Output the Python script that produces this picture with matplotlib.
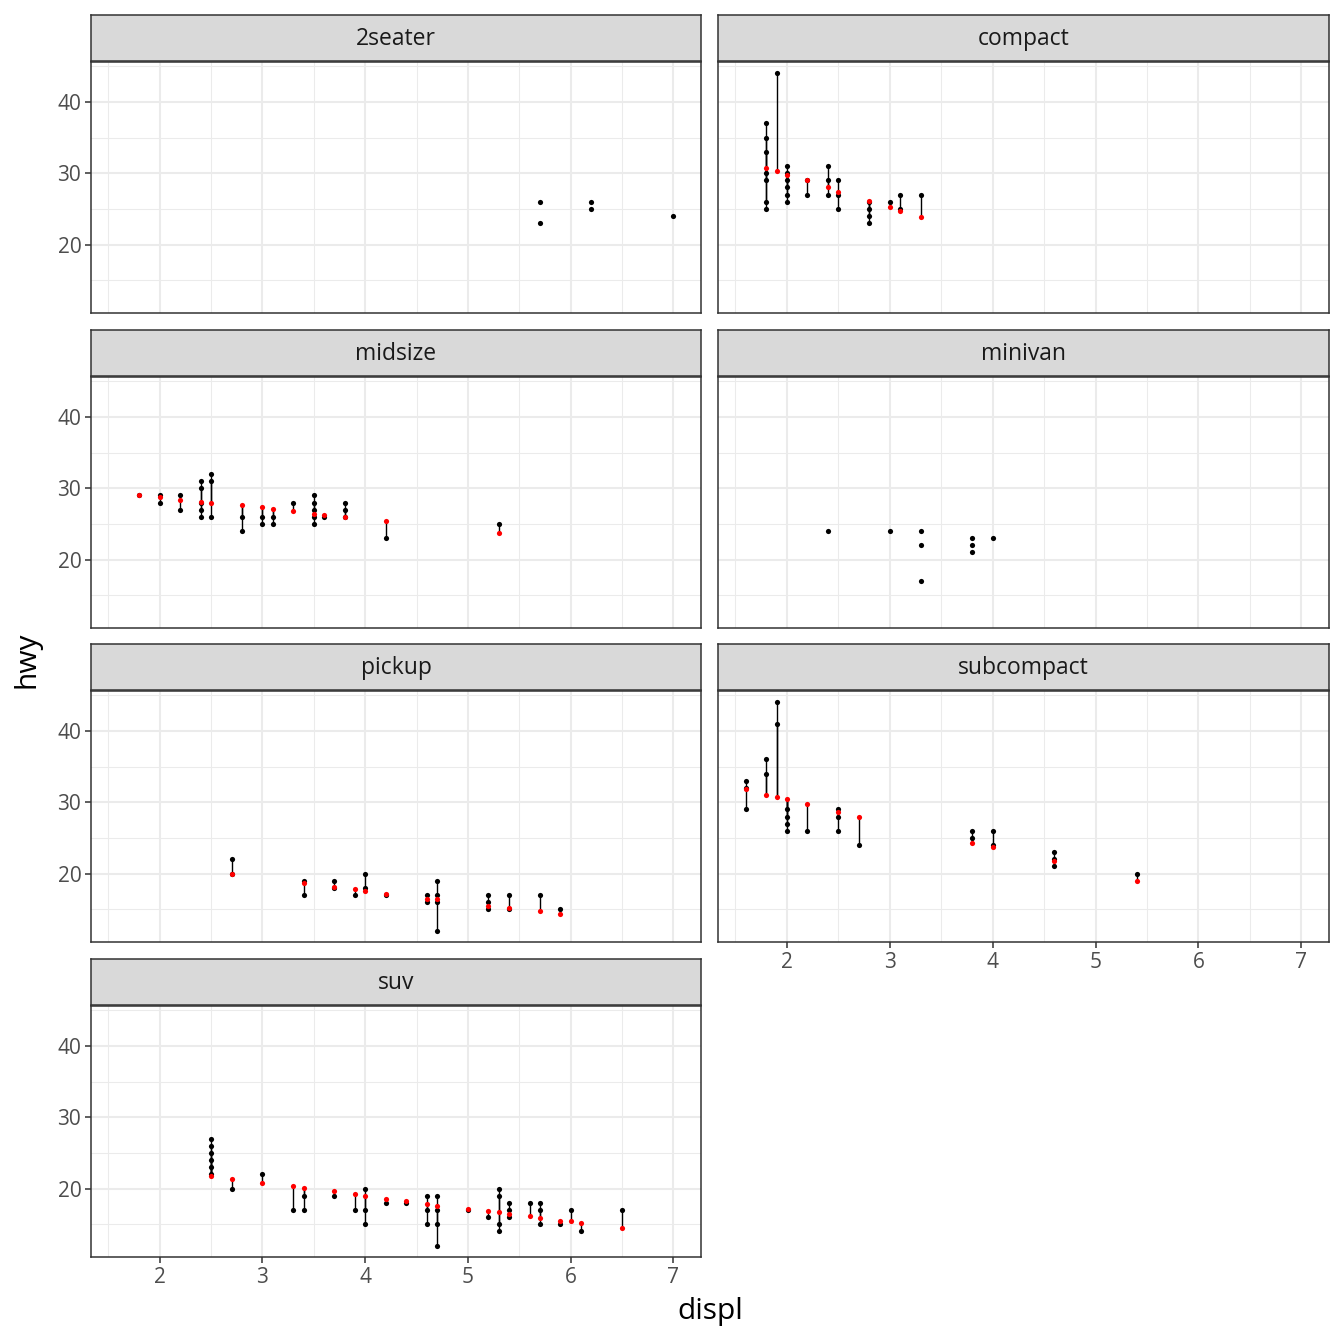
import matplotlib
matplotlib.use("Agg")
import matplotlib.pyplot as plt
from matplotlib.ticker import MultipleLocator

plt.rcParams['font.family'] = ['Open Sans', 'DejaVu Sans']

# observed points (displ, hwy) per class
twoseater_displ = [5.7, 5.7, 6.2, 6.2, 7.0]
twoseater_hwy = [26, 23, 26, 25, 24]

compact_displ = [1.8, 1.8, 1.8, 1.8, 1.8, 1.8, 1.8, 1.9, 2.0, 2.0, 2.0, 2.0, 2.0, 2.0,
                 2.2, 2.2, 2.4, 2.4, 2.4, 2.5, 2.5, 2.5, 2.8, 2.8, 2.8, 2.8, 3.0,
                 3.1, 3.1, 3.3]
compact_hwy = [37, 35, 33, 30, 29, 26, 25, 44, 31, 30, 29, 28, 27, 26,
               29, 27, 31, 29, 27, 29, 27, 25, 26, 25, 24, 23, 26,
               27, 25, 27]
compact_fit_displ = [1.8, 1.9, 2.0, 2.2, 2.4, 2.5, 2.8, 3.0, 3.1, 3.3]
compact_fit_hwy = [30.7, 30.3, 29.8, 29.0, 28.0, 27.4, 26.1, 25.2, 24.7, 23.8]

midsize_displ = [1.8, 2.0, 2.0, 2.2, 2.2, 2.4, 2.4, 2.4, 2.4, 2.4, 2.5, 2.5, 2.5,
                 2.8, 2.8, 3.0, 3.0, 3.1, 3.1, 3.3, 3.5, 3.5, 3.5, 3.5, 3.5,
                 3.6, 3.8, 3.8, 3.8, 4.2, 5.3]
midsize_hwy = [29, 29, 28, 29, 27, 31, 30, 28, 27, 26, 32, 31, 26,
               26, 24, 26, 25, 26, 25, 28, 29, 28, 27, 26, 25,
               26, 28, 27, 26, 23, 25]
midsize_fit_displ = [1.8, 2.0, 2.2, 2.4, 2.5, 2.8, 3.0, 3.1, 3.3, 3.5, 3.6, 3.8, 4.2, 5.3]
midsize_fit_hwy = [29.1, 28.8, 28.4, 28.1, 28.0, 27.6, 27.3, 27.1, 26.8, 26.4, 26.2, 26.0, 25.4, 23.7]

minivan_displ = [2.4, 3.0, 3.3, 3.3, 3.3, 3.8, 3.8, 3.8, 4.0]
minivan_hwy = [24, 24, 24, 22, 17, 23, 22, 21, 23]

pickup_displ = [2.7, 2.7, 3.4, 3.4, 3.7, 3.7, 3.9, 4.0, 4.0, 4.2, 4.6, 4.6,
                4.7, 4.7, 4.7, 4.7, 5.2, 5.2, 5.2, 5.4, 5.4, 5.7, 5.9]
pickup_hwy = [22, 20, 19, 17, 19, 18, 17, 20, 18, 17, 17, 16,
              19, 17, 16, 12, 17, 16, 15, 17, 15, 17, 15]
pickup_fit_displ = [2.7, 3.4, 3.7, 3.9, 4.0, 4.2, 4.6, 4.7, 5.2, 5.4, 5.7, 5.9]
pickup_fit_hwy = [19.9, 18.7, 18.1, 17.8, 17.6, 17.2, 16.5, 16.4, 15.5, 15.2, 14.7, 14.3]

subcompact_displ = [1.6, 1.6, 1.6, 1.8, 1.8, 1.9, 1.9, 2.0, 2.0, 2.0, 2.0, 2.2,
                    2.5, 2.5, 2.5, 2.7, 3.8, 3.8, 4.0, 4.0, 4.6, 4.6, 4.6, 5.4]
subcompact_hwy = [33, 32, 29, 36, 34, 44, 41, 29, 28, 27, 26, 26,
                  29, 28, 26, 24, 26, 25, 26, 24, 23, 22, 21, 20]
subcompact_fit_displ = [1.6, 1.8, 1.9, 2.0, 2.2, 2.5, 2.7, 3.8, 4.0, 4.6, 5.4]
subcompact_fit_hwy = [31.8, 31.0, 30.7, 30.4, 29.7, 28.7, 28.0, 24.3, 23.7, 21.7, 18.9]

suv_displ = [2.5, 2.5, 2.5, 2.5, 2.5, 2.5, 2.7, 3.0, 3.3, 3.4, 3.4, 3.7, 3.9,
             4.0, 4.0, 4.0, 4.2, 4.4, 4.6, 4.6, 4.6, 4.7, 4.7, 4.7, 4.7,
             5.0, 5.2, 5.3, 5.3, 5.3, 5.3, 5.4, 5.4, 5.4, 5.6, 5.7, 5.7, 5.7,
             5.9, 6.0, 6.1, 6.5]
suv_hwy = [27, 26, 25, 24, 23, 22, 20, 22, 17, 19, 17, 19, 17,
           20, 17, 15, 18, 18, 19, 17, 15, 19, 17, 15, 12,
           17, 16, 20, 19, 15, 14, 18, 17, 16, 18, 18, 17, 15,
           15, 17, 14, 17]
suv_fit_displ = [2.5, 2.7, 3.0, 3.3, 3.4, 3.7, 3.9, 4.0, 4.2, 4.4, 4.6, 4.7, 5.0,
                 5.2, 5.3, 5.4, 5.6, 5.7, 5.9, 6.0, 6.1, 6.5]
suv_fit_hwy = [21.7, 21.3, 20.8, 20.3, 20.1, 19.6, 19.2, 18.9, 18.5, 18.2, 17.8, 17.6, 17.1,
               16.8, 16.7, 16.5, 16.1, 15.9, 15.5, 15.4, 15.2, 14.5]

panels = [
    ("2seater", twoseater_displ, twoseater_hwy, [], []),
    ("compact", compact_displ, compact_hwy, compact_fit_displ, compact_fit_hwy),
    ("midsize", midsize_displ, midsize_hwy, midsize_fit_displ, midsize_fit_hwy),
    ("minivan", minivan_displ, minivan_hwy, [], []),
    ("pickup", pickup_displ, pickup_hwy, pickup_fit_displ, pickup_fit_hwy),
    ("subcompact", subcompact_displ, subcompact_hwy, subcompact_fit_displ, subcompact_fit_hwy),
    ("suv", suv_displ, suv_hwy, suv_fit_displ, suv_fit_hwy),
]

W = H = 1344
fig = plt.figure(figsize=(13.44, 13.44), dpi=100)

col_x = [(91, 701), (718, 1329)]
row_y = [(62, 313), (377, 628), (691, 942), (1006, 1257)]
strip_h = 46
dark = "#333333"

for i, (name, xs, ys, fx, fy) in enumerate(panels):
    r, c = divmod(i, 2)
    x0, x1 = col_x[c]
    y0, y1 = row_y[r]
    ax = fig.add_axes([x0 / W, 1 - y1 / H, (x1 - x0) / W, (y1 - y0) / H])
    sax = fig.add_axes([x0 / W, 1 - (y0 - 1) / H, (x1 - x0) / W, strip_h / H])
    sax.set_facecolor("#D9D9D9")
    sax.set_xticks([])
    sax.set_yticks([])
    for sp in sax.spines.values():
        sp.set_color(dark)
        sp.set_linewidth(1.1)
    sax.text(0.5, 0.47, name, ha="center", va="center", fontsize=16.5,
             color="#1A1A1A", transform=sax.transAxes)

    ax.set_xlim(1.33, 7.27)
    ax.set_ylim(10.4, 45.6)
    ax.xaxis.set_major_locator(MultipleLocator(1))
    ax.xaxis.set_minor_locator(MultipleLocator(0.5))
    ax.yaxis.set_major_locator(MultipleLocator(10))
    ax.yaxis.set_minor_locator(MultipleLocator(5))
    ax.grid(which="major", color="#EBEBEB", linewidth=1.5)
    ax.grid(which="minor", color="#EBEBEB", linewidth=0.75)
    ax.set_axisbelow(True)
    for sp in ax.spines.values():
        sp.set_color(dark)
        sp.set_linewidth(1.1)
    ax.tick_params(which="major", length=4, width=1.1, color=dark, pad=3,
                   labelsize=15, labelcolor="#4D4D4D")
    ax.tick_params(which="minor", length=0)

    # segments from observed value to fitted value
    fit_map = dict(zip(fx, fy))
    for x, y in zip(xs, ys):
        if x in fit_map:
            ax.plot([x, x], [y, fit_map[x]], color="black", linewidth=1.0, zorder=2)
    ax.scatter(xs, ys, s=14, color="black", linewidths=0, zorder=3)
    if fx:
        ax.scatter(fx, fy, s=14, color="red", linewidths=0, zorder=4)

    show_x = (r == 3) or (r == 2 and c == 1)
    if not show_x:
        ax.tick_params(axis="x", which="both", length=0, labelbottom=False)
    if c == 1:
        ax.tick_params(axis="y", which="both", length=0, labelleft=False)

fig.text(710 / W, 1 - 1312 / H, "displ", ha="center", va="center", fontsize=21.5)
fig.text(27 / W, 1 - 660 / H, "hwy", ha="center", va="center", fontsize=21.5, rotation=90)

fig.savefig("out.png", dpi=100, facecolor="white")
